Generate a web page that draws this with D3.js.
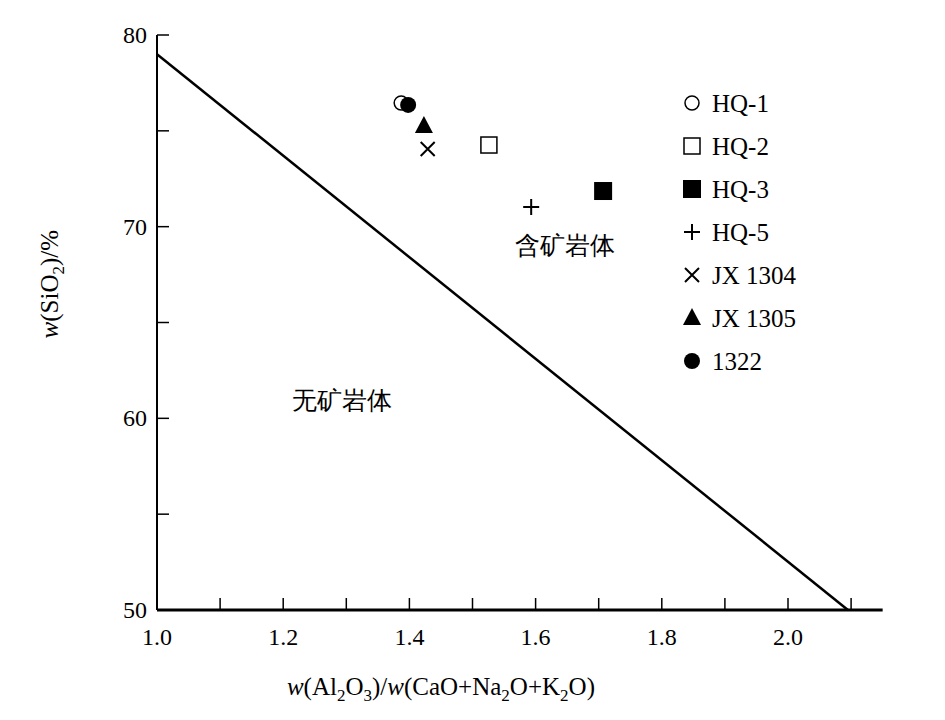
<!DOCTYPE html>
<html><head><meta charset="utf-8">
<script src="https://cdn.jsdelivr.net/npm/d3@7"></script>
<style>body{margin:0;background:#fff}text{font-family:"Liberation Serif","DejaVu Serif",serif}</style>
</head><body><svg id="c" width="945" height="720"></svg>
<script>
const xTicks=[1.0,1.2,1.4,1.6,1.8,2.0];
const xMinor=[1.1,1.3,1.5,1.7,1.9,2.1];
const yTicks=[50,60,70,80];
const yMinor=[55,65,75];
const boundary=[[1.0,79.0],[2.095,50]];
const series=["HQ-1","HQ-2","HQ-3","HQ-5","JX 1304","JX 1305","1322"];
const symbols=["circleOpen","squareOpen","squareFill","plus","cross","triangle","circleFill"];
const xs=[1.387,1.526,1.707,1.593,1.429,1.423,1.398];
const ys=[76.45,74.26,71.86,71.03,74.05,75.25,76.35];

const svg=d3.select("#c");
const x=d3.scaleLinear().domain([1.0,2.0]).range([157,788]);
const y=d3.scaleLinear().domain([50,80]).range([610,35]);
const g=svg.append("g");
// axes
g.append("line").attr("x1",157).attr("x2",x(2.15)).attr("y1",610).attr("y2",610).attr("stroke","#000").attr("stroke-width",3);
g.append("line").attr("x1",157).attr("x2",157).attr("y1",y(80)).attr("y2",610).attr("stroke","#000").attr("stroke-width",2);
xTicks.concat(xMinor).forEach(v=>g.append("line").attr("x1",x(v)).attr("x2",x(v)).attr("y1",610).attr("y2",598).attr("stroke","#000").attr("stroke-width",1.5));
yTicks.concat(yMinor).forEach(v=>g.append("line").attr("x1",157).attr("x2",169).attr("y1",y(v)).attr("y2",y(v)).attr("stroke","#000").attr("stroke-width",1.5));
xTicks.forEach(v=>g.append("text").attr("x",x(v)).attr("y",645).attr("text-anchor","middle").attr("font-size",24).text(v.toFixed(1)));
yTicks.forEach(v=>g.append("text").attr("x",147).attr("y",y(v)+8).attr("text-anchor","end").attr("font-size",24).text(v));
// axis titles
const xt=g.append("text").attr("x",x(1.45)).attr("y",695).attr("text-anchor","middle").attr("font-size",25);
xt.append("tspan").attr("font-style","italic").text("w");xt.append("tspan").text("(Al");
xt.append("tspan").attr("font-size",17).attr("dy",6).text("2");xt.append("tspan").attr("dy",-6).text("O");
xt.append("tspan").attr("font-size",17).attr("dy",6).text("3");xt.append("tspan").attr("dy",-6).text(")/");
xt.append("tspan").attr("font-style","italic").text("w");xt.append("tspan").text("(CaO+Na");
xt.append("tspan").attr("font-size",17).attr("dy",6).text("2");xt.append("tspan").attr("dy",-6).text("O+K");
xt.append("tspan").attr("font-size",17).attr("dy",6).text("2");xt.append("tspan").attr("dy",-6).text("O)");
const yt=g.append("text").attr("transform","translate(58,"+y(67)+") rotate(-90)").attr("text-anchor","middle").attr("font-size",25);
yt.append("tspan").attr("font-style","italic").text("w");yt.append("tspan").text("(SiO");
yt.append("tspan").attr("font-size",17).attr("dy",6).text("2");yt.append("tspan").attr("dy",-6).text(")/%");
// boundary
g.append("path").attr("d",d3.line().x(d=>x(d[0])).y(d=>y(d[1]))(boundary)).attr("stroke","#000").attr("stroke-width",2.5).attr("fill","none");
g.append("text").attr("x",565).attr("y",254).attr("text-anchor","middle").attr("font-size",25).attr("font-family","Noto Sans CJK SC").text("含矿岩体");
g.append("text").attr("x",342).attr("y",409).attr("text-anchor","middle").attr("font-size",25).attr("font-family","Noto Sans CJK SC").text("无矿岩体");
function sym(sel,t,cx,cy){
  const s=sel.append("g").attr("transform",`translate(${cx},${cy})`);
  if(t=="circleOpen")s.append("circle").attr("r",7).attr("fill","#fff").attr("stroke","#000").attr("stroke-width",1.5);
  if(t=="circleFill")s.append("circle").attr("r",8).attr("fill","#000");
  if(t=="squareOpen")s.append("rect").attr("x",-8).attr("y",-8).attr("width",16).attr("height",16).attr("fill","none").attr("stroke","#000").attr("stroke-width",1.5);
  if(t=="squareFill")s.append("rect").attr("x",-9).attr("y",-9).attr("width",18).attr("height",18).attr("fill","#000");
  if(t=="plus")s.append("path").attr("d","M-8,0H8M0,-8V8").attr("stroke","#000").attr("stroke-width",2);
  if(t=="cross")s.append("path").attr("d","M-7,-7L7,7M-7,7L7,-7").attr("stroke","#000").attr("stroke-width",2);
  if(t=="triangle")s.append("path").attr("d","M0,-10L9,7H-9Z").attr("fill","#000");
}
series.forEach((n,i)=>sym(g,symbols[i],x(xs[i]),y(ys[i])));
series.forEach((n,i)=>{const ly=103+i*43;sym(g,symbols[i],692,ly);
  g.append("text").attr("x",712).attr("y",ly+9).attr("font-size",25).text(n);});
</script></body></html>
